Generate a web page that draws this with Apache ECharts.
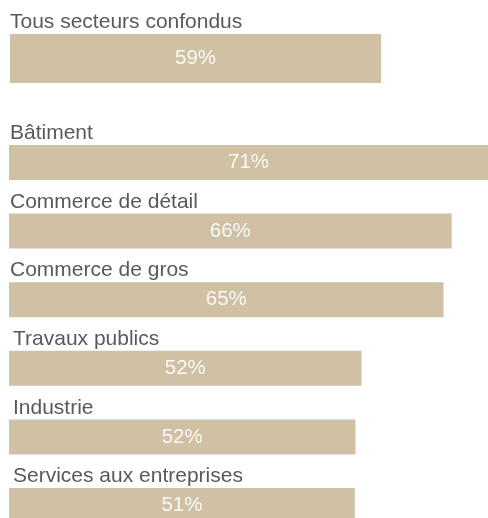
<!DOCTYPE html>
<html><head><meta charset="utf-8">
<script src="https://cdn.jsdelivr.net/npm/echarts@6/dist/echarts.min.js"></script>
<style>html,body{margin:0;padding:0;background:#fff}#c{width:488px;height:518px}</style>
</head><body><div id="c"></div>
<script>
// Data
const overallCategories = ['Tous secteurs confondus'];
const overallValues = [59];
const sectorCategories = ['Bâtiment', 'Commerce de détail', 'Commerce de gros', 'Travaux publics', 'Industrie', 'Services aux entreprises'];
const sectorValues = [71.2, 65.8, 64.6, 52.4, 51.5, 51.4];

// Styles
const BAR = '#d0c1a5';
const TXT = '#595959';
const FONT = '"Liberation Sans", Arial, sans-serif';

function valueLabel() {
  return { show: true, position: 'inside', formatter: p => Math.round(p.value) + '%',
    color: 'rgba(255,255,255,0.9)', fontFamily: FONT, fontSize: 20.5 };
}
function nameLabel(dx) {
  return { show: true, position: [dx, -1], align: 'left', verticalAlign: 'bottom', lineHeight: 21,
    formatter: p => p.name, color: TXT, fontFamily: FONT, fontSize: 21 };
}

const chart = echarts.init(document.getElementById('c'), null, { renderer: 'canvas' });
chart.setOption({
  animation: false,
  grid: [
    { left: 10, top: 34, width: 480, height: 49 },
    { left: 9, top: 162.5, width: 480, height: 343 }
  ],
  xAxis: [
    { gridIndex: 0, type: 'value', min: 0, max: 76, show: false },
    { gridIndex: 1, type: 'value', min: 0, max: 'dataMax', show: false }
  ],
  yAxis: [
    { gridIndex: 0, type: 'category', data: overallCategories, inverse: true, show: false },
    { gridIndex: 1, type: 'category', data: sectorCategories, inverse: true, boundaryGap: false, show: false }
  ],
  series: [
    { type: 'bar', xAxisIndex: 0, yAxisIndex: 0, data: overallValues, barWidth: 49,
      itemStyle: { color: BAR }, label: valueLabel(), silent: true },
    { type: 'bar', xAxisIndex: 0, yAxisIndex: 0, data: overallValues, barWidth: 49, barGap: '-100%',
      itemStyle: { color: 'rgba(0,0,0,0)' }, label: nameLabel(0), silent: true },
    { type: 'bar', xAxisIndex: 1, yAxisIndex: 1, data: sectorValues, barWidth: 35, clip: false,
      itemStyle: { color: BAR }, label: valueLabel(), silent: true },
    { type: 'bar', xAxisIndex: 1, yAxisIndex: 1, barWidth: 35, barGap: '-100%', clip: false,
      data: sectorValues.map((v, i) => ({ value: v, label: nameLabel(i < 3 ? 1 : 4) })),
      itemStyle: { color: 'rgba(0,0,0,0)' }, label: nameLabel(1), silent: true }
  ]
});
</script>
</body></html>
